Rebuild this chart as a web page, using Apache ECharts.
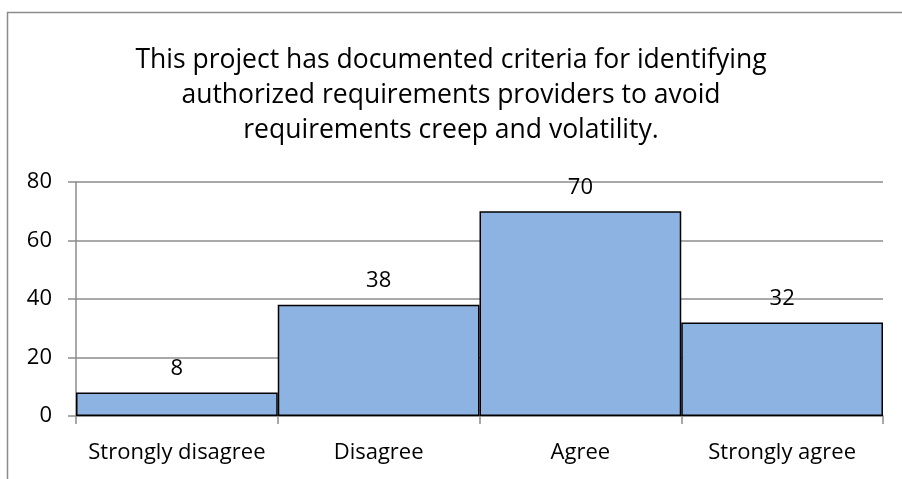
<!DOCTYPE html>
<html><head><meta charset="utf-8">
<script src="https://cdn.jsdelivr.net/npm/echarts@6/dist/echarts.min.js"></script>
<style>html,body{margin:0;padding:0;background:#fff}#c{width:902px;height:479px}</style>
</head><body><div id="c"></div>
<script>
const titleLines = ['This project has documented criteria for identifying', 'authorized requirements providers to avoid', 'requirements creep and volatility.'];
const categories = ['Strongly disagree', 'Disagree', 'Agree', 'Strongly agree'];
const values = [8, 38, 70, 32];
const yMin = 0, yMax = 80, yStep = 20;
const FONT = '"Open Sans", Carlito, Calibri, sans-serif';
const chart = echarts.init(document.getElementById('c'), null, {renderer: 'canvas'});
chart.setOption({
  animation: false,
  backgroundColor: '#fff',
  title: {
    text: titleLines.join('\n'), left: 'center', top: 38,
    textStyle: {fontFamily: FONT, fontSize: 26.5, fontWeight: 'normal', color: '#000', lineHeight: 35}
  },
  graphic: [{type: 'rect', shape: {x: 7.5, y: 12.5, width: 1000, height: 1000}, style: {fill: 'none', stroke: '#8c8c8c', lineWidth: 1.5}, silent: true}],
  grid: {left: 76, right: 19, top: 182, bottom: 63, containLabel: false},
  xAxis: {
    type: 'category', data: categories, boundaryGap: true,
    axisLine: {lineStyle: {color: '#8c8c8c', width: 1.5}},
    axisTick: {show: true, length: 8, interval: 0, alignWithLabel: false, lineStyle: {color: '#8c8c8c', width: 1.5}},
    axisLabel: {fontFamily: FONT, fontSize: 22, color: '#000', margin: 26, interval: 0, hideOverlap: false}
  },
  yAxis: {
    type: 'value', min: yMin, max: yMax, interval: yStep,
    axisLine: {show: true, lineStyle: {color: '#8c8c8c', width: 1.5}},
    axisTick: {show: true, length: 8, lineStyle: {color: '#8c8c8c', width: 1.5}},
    axisLabel: {fontFamily: FONT, fontSize: 22, color: '#000', margin: 24},
    splitLine: {lineStyle: {color: '#8c8c8c', width: 1.5}}
  },
  series: [{
    type: 'bar', data: values, barCategoryGap: '0%',
    itemStyle: {color: '#8DB3E2', borderColor: '#000', borderWidth: 1.5},
    label: {show: true, position: 'top', distance: 13, fontFamily: FONT, fontSize: 22, color: '#000'}
  }]
});
</script></body></html>
